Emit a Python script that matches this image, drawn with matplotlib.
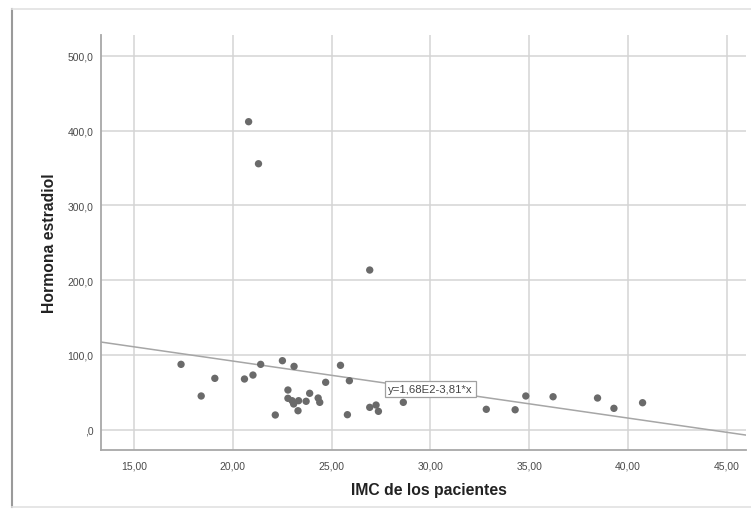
import matplotlib
matplotlib.use("Agg")
import matplotlib.pyplot as plt
import numpy as np
from matplotlib.lines import Line2D

# IMC (BMI) vs estradiol
imc = [17.38, 18.40, 19.09, 20.59, 21.02, 21.41, 20.80, 21.30, 22.15, 22.51,
       22.79, 22.79, 23.10, 23.00, 23.08, 23.33, 23.30, 23.71, 23.89, 24.32,
       24.40, 24.70, 25.45, 25.90, 25.80, 26.93, 26.93, 27.25, 27.37, 28.63,
       32.83, 34.29, 34.83, 36.21, 38.46, 39.29, 40.74]
estradiol = [87.4, 45.1, 68.7, 67.8, 73.1, 87.4, 411.8, 355.6, 19.7, 92.3,
             53.1, 42.0, 84.7, 38.8, 34.4, 38.8, 25.4, 38.0, 48.7, 42.4,
             36.6, 63.4, 86.1, 65.5, 20.1, 213.5, 29.9, 33.0, 24.6, 36.6,
             27.3, 26.7, 45.1, 44.1, 42.4, 28.6, 36.1]

fit_intercept = 168.0
fit_slope = -3.81
fit_label = "y=1,68E2-3,81*x"

x_ticks = [15, 20, 25, 30, 35, 40, 45]
y_ticks = [0, 100, 200, 300, 400, 500]

plt.rcParams["font.family"] = ["Liberation Sans", "DejaVu Sans"]

fig = plt.figure(figsize=(7.51, 5.10), dpi=100)
ax = fig.add_axes([0.134, 0.1151, 0.860, 0.8143])

xlim = (13.31, 46.0)
ylim = (-27.5, 527.7)
ax.set_xlim(*xlim)
ax.set_ylim(*ylim)

ax.set_xticks(x_ticks)
ax.set_xticklabels([f"{v:.2f}".replace(".", ",") for v in x_ticks])
ax.set_yticks(y_ticks)
ax.set_yticklabels([",0" if v == 0 else f"{v:.1f}".replace(".", ",") for v in y_ticks])
ax.tick_params(length=0, labelsize=7.5, labelcolor="#4a4a4a")
ax.tick_params(axis="y", pad=5)
ax.tick_params(axis="x", pad=7)

ax.grid(True, color="#d4d4d4", lw=1.1)
ax.set_axisbelow(True)
for side in ("top", "right"):
    ax.spines[side].set_visible(False)
for side in ("left", "bottom"):
    ax.spines[side].set_color("#a8a8a8")
    ax.spines[side].set_linewidth(1.3)

# fit line across the full x range
xs = np.array(xlim)
ax.plot(xs, fit_intercept + fit_slope * xs, color="#a6a6a6", lw=1.1, zorder=2)

ax.scatter(imc, estradiol, s=28, color="#6a6a6a", edgecolors="none", zorder=3)

ax.text(30.0, 54.5, fit_label, ha="center", va="center", fontsize=8.2,
        color="#444444", zorder=4,
        bbox=dict(boxstyle="square,pad=0.25", fc="white", ec="#a0a0a0", lw=0.9))

fig.text(428.5 / 751, 1 - 491 / 510, "IMC de los pacientes", ha="center",
         va="center", fontsize=11.3, fontweight="bold", color="#222222")
fig.text(49.3 / 751, 1 - 243.5 / 510, "Hormona estradiol", ha="center",
         va="center", rotation=90, fontsize=11.3, fontweight="bold",
         color="#222222")

# outer frame like the screenshot
fig.add_artist(Line2D([12 / 751, 12 / 751], [1 - 508 / 510, 1 - 10 / 510],
                      transform=fig.transFigure, color="#9a9a9a", lw=1.5))
fig.add_artist(Line2D([12 / 751, 1.0], [1 - 10 / 510, 1 - 10 / 510],
                      transform=fig.transFigure, color="#e2e2e2", lw=1.2))
fig.add_artist(Line2D([12 / 751, 1.0], [1 - 508 / 510, 1 - 508 / 510],
                      transform=fig.transFigure, color="#e2e2e2", lw=1.2))

fig.savefig("out.png", dpi=100)
